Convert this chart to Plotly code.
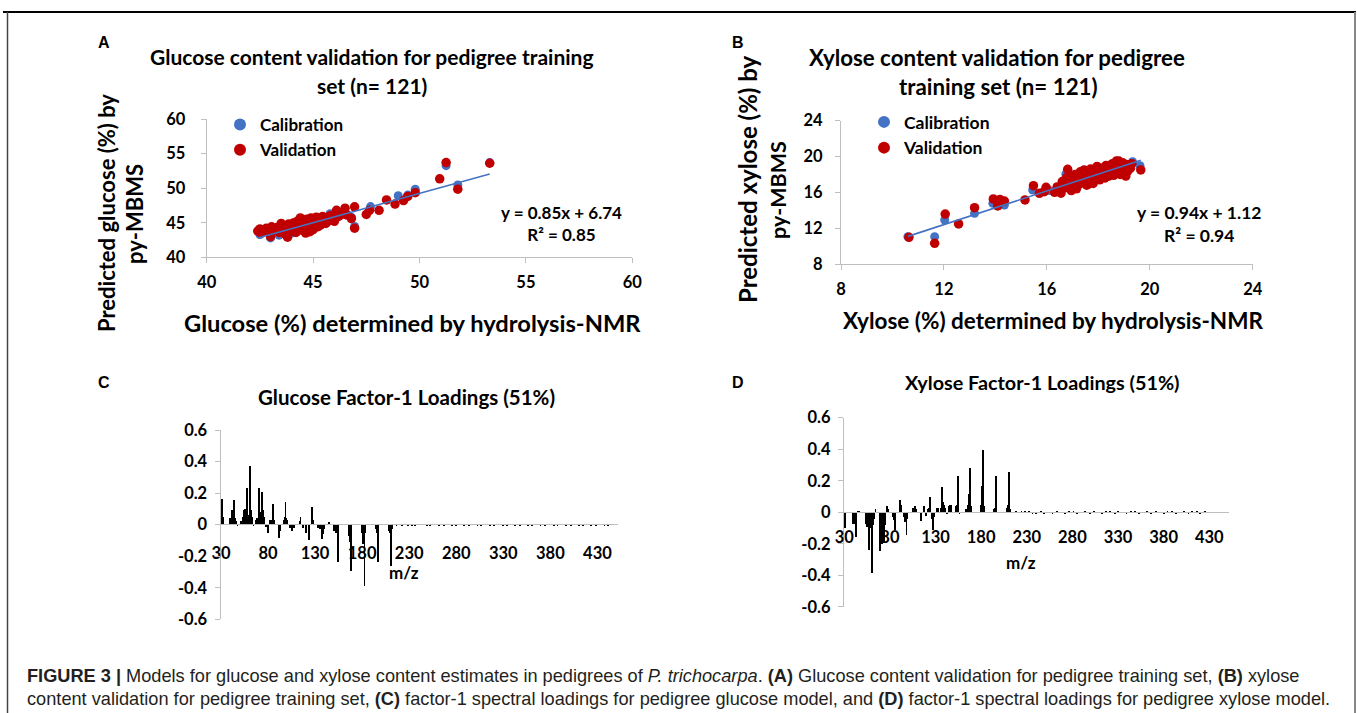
import plotly.graph_objects as go

W, H = 1357, 713

# ---------------- Panel A: glucose validation ----------------
gluc_cal_x = [42.5, 43.0, 43.4, 44.0, 44.6, 45.3, 45.8, 46.8, 46.95, 47.7, 49.0, 49.45, 49.8, 51.25, 51.8, 53.3]
gluc_cal_y = [43.3, 42.8, 43.2, 43.5, 44.2, 44.5, 46.3, 45.8, 44.45, 47.33, 48.9, 49.0, 49.85, 53.25, 50.45, 53.7]
gluc_val_x = [42.4, 42.5, 42.55, 42.7, 42.8, 42.9, 43.0, 43.05, 43.2, 43.3, 43.4, 43.5, 43.55, 43.6, 43.7,
              43.75, 43.8, 43.85, 43.9, 44.0, 44.05, 44.1, 44.15, 44.2, 44.25, 44.3, 44.35, 44.4, 44.45, 44.5,
              44.55, 44.6, 44.65, 44.7, 44.75, 44.8, 44.85, 44.9, 44.95, 45.0, 45.05, 45.1, 45.15, 45.2, 45.25,
              45.3, 45.35, 45.4, 45.45, 45.5, 45.55, 45.6, 45.7, 45.75, 45.8, 45.9, 46.0, 46.1, 46.2, 46.35,
              46.5, 46.6, 46.8, 46.95, 46.95, 47.5, 47.65, 48.1, 48.45, 48.85, 49.25, 49.45, 49.8, 50.95, 51.25,
              51.8, 53.3]
gluc_val_y = [43.8, 44.1, 43.5, 43.9, 44.2, 43.7, 43.0, 44.4, 43.9, 44.3, 43.6, 44.9, 44.0, 44.6, 43.3,
              44.2, 42.9, 44.8, 44.1, 44.5, 43.8, 45.0, 44.3, 43.6, 44.7, 45.3, 44.0, 45.7, 44.5, 43.9,
              45.2, 44.8, 43.5, 45.5, 44.2, 45.0, 43.7, 45.7, 44.6, 44.0, 45.3, 44.9, 45.8, 44.4, 45.1,
              45.6, 44.7, 45.3, 45.9, 45.0, 45.5, 44.9, 45.8, 45.3, 46.0, 45.5, 45.2, 46.8, 45.9, 46.2,
              47.1, 46.1, 45.6, 44.2, 47.3, 46.2, 46.8, 46.8, 48.3, 47.7, 48.2, 48.8, 49.35, 51.35, 53.7,
              49.85, 53.6]
gluc_slope, gluc_icpt, gluc_r2 = 0.85, 6.74, 0.85

# ---------------- Panel B: xylose validation ----------------
xyl_cal_x = [10.6, 11.64, 12.03, 13.19, 13.9, 14.35, 15.45, 16.1, 16.5, 16.74, 17.2, 17.8, 18.3, 18.8, 19.33, 19.62]
xyl_cal_y = [11.05, 11.05, 12.91, 13.66, 14.77, 14.59, 16.26, 16.2, 16.5, 18.05, 17.2, 17.6, 18.4, 18.9, 19.43, 18.98]
xyl_val_x = [10.64, 11.64, 12.05, 12.57, 13.19, 13.92, 14.09, 14.18, 14.35, 15.15, 15.48, 15.71, 15.9, 15.97,
             16.3, 16.4, 16.5, 16.6, 16.7, 16.75, 16.81, 16.85, 16.9, 17.0, 17.05, 17.1, 17.2, 17.25, 17.3,
             17.35, 17.4, 17.45, 17.5, 17.55, 17.6, 17.65, 17.7, 17.75, 17.8, 17.85, 17.9, 17.95, 18.0, 18.05,
             18.1, 18.15, 18.2, 18.25, 18.3, 18.35, 18.4, 18.45, 18.5, 18.55, 18.6, 18.65, 18.7, 18.75, 18.8,
             18.85, 18.9, 18.95, 19.0, 19.07, 19.1, 19.15, 19.25, 19.3, 19.65, 16.55, 16.95, 17.15, 17.6]
xyl_val_y = [10.98, 10.31, 13.58, 12.47, 14.29, 15.26, 14.48, 15.2, 15.03, 15.15, 16.75, 15.89, 16.08, 16.56,
             16.0, 16.6, 16.3, 17.2, 16.5, 17.6, 18.57, 16.9, 17.9, 17.3, 16.7, 18.0, 17.5, 16.9, 18.3,
             17.7, 17.1, 18.5, 17.9, 16.8, 18.2, 17.4, 18.6, 17.8, 17.0, 18.4, 17.6, 18.9, 18.1, 17.4,
             18.7, 17.9, 18.3, 17.6, 19.0, 18.4, 17.8, 18.8, 18.2, 19.2, 17.9, 18.6, 19.5, 18.3, 19.5,
             18.0, 18.8, 19.3, 18.5, 17.82, 19.1, 18.4, 18.7, 19.2, 18.5, 15.9, 16.2, 16.4, 16.9]
xyl_slope, xyl_icpt, xyl_r2 = 0.94, 1.12, 0.94

# ---------------- Panel C: glucose factor-1 loadings ----------------
gluc_mz = [31, 32, 39, 41, 42, 43, 44, 46, 47, 51, 53, 54, 55, 56, 57, 58, 59, 60, 61, 62, 63, 64,
           67, 68, 70, 71, 72, 73, 74, 75, 77, 79, 82, 83, 84, 85, 86, 91, 92, 96, 97, 98, 99, 100,
           103, 105, 107, 113, 114, 117, 120, 123, 126, 127, 133, 135, 137, 138, 139, 144, 149, 150,
           152, 154, 165, 166, 167, 168, 179, 180, 181, 182, 183, 194, 195, 196, 208, 209, 210, 211,
           216, 222, 228, 232, 236, 240, 244, 248, 252, 257, 261, 266, 270, 275, 279, 284, 288, 293,
           297, 302, 306, 311, 315, 320, 324, 329, 333, 338, 342, 347, 351, 356, 360, 365, 369, 374,
           378, 383, 387, 392, 396, 401, 405, 410, 414, 419, 423, 428, 432, 437, 441, 445, 449]
gluc_load = [0.16, 0.05, 0.04, 0.095, 0.06, 0.155, 0.04, 0.02, -0.01, 0.02, 0.05, 0.095, 0.10, 0.06, 0.23,
             0.05, 0.06, 0.37, 0.09, 0.05, 0.03, -0.01, 0.03, 0.04, 0.235, 0.08, 0.05, 0.21, 0.09, 0.05,
             -0.015, -0.05, 0.03, 0.02, 0.03, 0.13, 0.03, -0.085, -0.04, 0.03, 0.05, 0.145, 0.04, 0.03,
             -0.02, -0.04, -0.02, 0.02, 0.05, -0.02, -0.05, -0.095, 0.11, 0.03, -0.02, -0.03, -0.09, -0.06,
             -0.03, 0.015, -0.03, -0.04, -0.05, -0.235, -0.07, -0.11, -0.05, -0.295, -0.05, -0.12, -0.08,
             -0.39, -0.05, -0.03, -0.05, -0.235, -0.04, -0.05, -0.26, -0.03,
             -0.01, -0.008, -0.006, -0.005, -0.005, 0.003, 0.004, -0.004, -0.005, 0.003, -0.004, -0.005,
             0.003, -0.004, -0.005, 0.004, -0.004, -0.005, 0.003, -0.004, -0.005, 0.004, -0.004, -0.005,
             0.003, -0.004, -0.005, 0.004, -0.004, -0.005, 0.003, -0.004, -0.005, 0.004, -0.004, -0.005,
             0.003, -0.004, -0.005, 0.004, -0.004, -0.005, 0.003, -0.004, -0.005, 0.004, -0.004, -0.005,
             0.003, -0.005, -0.006]

# ---------------- Panel D: xylose factor-1 loadings ----------------
xyl_mz = [31, 39, 41, 43, 45, 46, 53, 54, 55, 56, 57, 58, 59, 60, 61, 62, 64, 69, 70, 71, 72, 73, 74,
          75, 77, 78, 83, 84, 85, 86, 91, 92, 95, 96, 97, 98, 99, 105, 107, 109, 114, 117, 119, 122,
          123, 124, 126, 127, 128, 131, 133, 136, 137, 138, 139, 140, 142, 145, 146, 147, 152, 153, 154,
          156, 163, 165, 166, 167, 168, 169, 180, 181, 182, 183, 194, 195, 196, 208, 209, 210, 211, 218,
          224, 228, 232, 236, 240, 245, 249, 254, 258, 263, 267, 272, 276, 281, 285, 290, 294, 299, 303,
          308, 312, 317, 321, 326, 330, 335, 339, 344, 348, 353, 357, 362, 366, 371, 375, 380, 384, 389,
          393, 398, 402, 407, 411, 416, 420, 425, 429, 434, 438, 443, 447]
xyl_load = [-0.1, -0.07, -0.07, -0.155, 0.01, 0.01, -0.04, -0.07, -0.09, -0.08, -0.24, -0.1, -0.08, -0.38,
            -0.08, -0.04, 0.02, -0.245, -0.12, -0.2, -0.1, -0.19, -0.08, -0.04, 0.045, 0.025, -0.03, -0.05,
            -0.11, -0.05, 0.08, 0.05, -0.03, -0.06, -0.05, -0.145, -0.04, 0.03, 0.045, 0.02, -0.055, 0.045,
            -0.02, 0.02, 0.03, 0.1, -0.04, -0.11, -0.03, 0.03, 0.03, 0.03, 0.16, 0.07, 0.05, 0.03, -0.01,
            0.04, 0.05, 0.05, 0.04, 0.05, 0.235, -0.01, 0.02, 0.05, 0.12, 0.1, 0.285, 0.04, 0.05, 0.17,
            0.4, 0.04, 0.02, 0.03, 0.23, 0.03, 0.05, 0.255, 0.02, 0.01,
            0.008, 0.006, 0.005, -0.004, -0.005, 0.004, -0.004, 0.003, -0.005, 0.004, 0.003, -0.004,
            0.005, 0.004, -0.004, 0.003, 0.004, -0.004, 0.005, 0.003, -0.004, 0.004, 0.005, -0.003,
            0.004, 0.003, -0.004, 0.004, 0.005, -0.004, 0.003, 0.004, -0.004, 0.005, 0.003, -0.004,
            0.004, 0.005, -0.004, 0.003, 0.004, -0.004, 0.005, 0.004, -0.004, 0.006]

mz_ticks = [30, 80, 130, 180, 230, 280, 330, 380, 430]
load_ticks = [0.6, 0.4, 0.2, 0, -0.2, -0.4, -0.6]
load_ticktext = ["0.6", "0.4", "0.2", "0", "-0.2", "-0.4", "-0.6"]

# ---------------- styling ----------------
BLUE = "#4472C4"
RED = "#C00000"
AX = "#BFBFBF"
FONT = "Lato"


def px(x):
    return x / W


def py(y):
    return 1 - y / H


fig = go.Figure()

# Panel A traces
fig.add_trace(go.Scatter(x=gluc_cal_x, y=gluc_cal_y, mode="markers", name="Calibration",
                         marker=dict(color=BLUE, size=9), xaxis="x", yaxis="y", legend="legend"))
fig.add_trace(go.Scatter(x=gluc_val_x, y=gluc_val_y, mode="markers", name="Validation",
                         marker=dict(color=RED, size=9.5), xaxis="x", yaxis="y", legend="legend"))
ga = min(gluc_cal_x + gluc_val_x)
gb = max(gluc_cal_x + gluc_val_x)
fig.add_trace(go.Scatter(x=[ga, gb], y=[gluc_slope * ga + gluc_icpt, gluc_slope * gb + gluc_icpt],
                         mode="lines", line=dict(color=BLUE, width=1.6), showlegend=False,
                         xaxis="x", yaxis="y"))

# Panel B traces
fig.add_trace(go.Scatter(x=xyl_cal_x, y=xyl_cal_y, mode="markers", name="Calibration",
                         marker=dict(color=BLUE, size=9), xaxis="x2", yaxis="y2", legend="legend2"))
fig.add_trace(go.Scatter(x=xyl_val_x, y=xyl_val_y, mode="markers", name="Validation",
                         marker=dict(color=RED, size=9.5), xaxis="x2", yaxis="y2", legend="legend2"))
xa = min(xyl_cal_x + xyl_val_x)
xb = max(xyl_cal_x + xyl_val_x)
fig.add_trace(go.Scatter(x=[xa, xb], y=[xyl_slope * xa + xyl_icpt, xyl_slope * xb + xyl_icpt],
                         mode="lines", line=dict(color=BLUE, width=1.6), showlegend=False,
                         xaxis="x2", yaxis="y2"))

# Panel C / D bars
fig.add_trace(go.Bar(x=gluc_mz, y=gluc_load, width=0.95, marker=dict(color="black", line=dict(width=0)),
                     showlegend=False, xaxis="x3", yaxis="y3"))
fig.add_trace(go.Bar(x=xyl_mz, y=xyl_load, width=0.95, marker=dict(color="black", line=dict(width=0)),
                     showlegend=False, xaxis="x4", yaxis="y4"))

tickfont = dict(family=FONT, size=16.5, color="black", weight="bold")

common = dict(showgrid=False, zeroline=False, showline=True, linecolor=AX, linewidth=1,
              ticks="outside", tickcolor=AX, ticklen=5, tickfont=tickfont, automargin=False)

layout = dict(
    width=W, height=H, autosize=False,
    margin=dict(l=0, r=0, t=0, b=0, pad=0, autoexpand=False),
    paper_bgcolor="white", plot_bgcolor="rgba(0,0,0,0)",
    bargap=0, showlegend=True,
    xaxis=dict(domain=[px(206.7), px(632.3)], range=[40, 60], tickvals=[40, 45, 50, 55, 60],
               anchor="y", ticklabelstandoff=5, **common),
    yaxis=dict(domain=[py(257.3), py(119)], range=[40, 60], tickvals=[40, 45, 50, 55, 60],
               anchor="x", ticklabelstandoff=12, **common),
    xaxis2=dict(domain=[px(841), px(1252.7)], range=[8, 24], tickvals=[8, 12, 16, 20, 24],
                anchor="y2", ticklabelstandoff=5, **common),
    yaxis2=dict(domain=[py(264), py(120.7)], range=[8, 24], tickvals=[8, 12, 16, 20, 24],
                anchor="x2", ticklabelstandoff=9, **common),
    xaxis3=dict(domain=[px(220.5), px(617.7)], range=[29.5, 451.5], tickvals=mz_ticks,
                anchor="free", position=py(524.3), showgrid=False, zeroline=False, showline=True,
                linecolor=AX, linewidth=1, ticks="", tickfont=tickfont, ticklabelstandoff=14,
                automargin=False),
    yaxis3=dict(domain=[py(619.3), py(430)], range=[-0.6, 0.6], tickvals=load_ticks,
                ticktext=load_ticktext, anchor="x3", ticklabelstandoff=4, **common),
    xaxis4=dict(domain=[px(843.8), px(1228.9)], range=[29.5, 451.5], tickvals=mz_ticks,
                anchor="free", position=py(512.3), showgrid=False, zeroline=False, showline=True,
                linecolor=AX, linewidth=1, ticks="", tickfont=tickfont, ticklabelstandoff=10,
                automargin=False),
    yaxis4=dict(domain=[py(606.9), py(417.7)], range=[-0.6, 0.6], tickvals=load_ticks,
                ticktext=load_ticktext, anchor="x4", ticklabelstandoff=4, **common),
    legend=dict(x=px(220), y=py(107), xanchor="left", yanchor="top",
                font=dict(family=FONT, size=17, color="black", weight="bold"),
                bgcolor="rgba(0,0,0,0)", tracegroupgap=0, itemsizing="constant"),
    legend2=dict(x=px(864), y=py(104), xanchor="left", yanchor="top",
                 font=dict(family=FONT, size=17.5, color="black", weight="bold"),
                 bgcolor="rgba(0,0,0,0)", tracegroupgap=0, itemsizing="constant"),
)
fig.update_layout(**layout)


def bold(size):
    return dict(family=FONT, size=size, color="black", weight="bold")


ann = []


def text(x, y, s, size, xanchor="center", textangle=0, font=None, align="center"):
    ann.append(dict(x=px(x), y=py(y), xref="paper", yref="paper", text=s, showarrow=False,
                    xanchor=xanchor, yanchor="middle", textangle=textangle,
                    font=font or bold(size), align=align))


# panel letters
letter_font = dict(family="Liberation Sans", size=16, color="black", weight="bold")
text(104, 42, "A", 16, font=letter_font)
text(738, 42, "B", 16, font=letter_font)
text(104, 382, "C", 16, font=letter_font)
text(738, 382, "D", 16, font=letter_font)

# titles
text(372, 56, "Glucose content validation for pedigree training", 21)
text(372, 85, "set (n= 121)", 21)
text(997, 57, "Xylose content validation for pedigree", 22.3)
text(999, 87, "training set (n= 121)", 22.3)
text(406, 397, "Glucose Factor-1 Loadings (51%)", 20.5)
text(1042, 382, "Xylose Factor-1 Loadings (51%)", 19.8)

# axis titles
text(412, 323, "Glucose (%) determined by hydrolysis-NMR", 23.7)
text(1053, 320, "Xylose (%) determined by hydrolysis-NMR", 22.5)
text(106, 213, "Predicted glucose (%) by", 22, textangle=-90)
text(135, 214, "py-MBMS", 22, textangle=-90)
text(747, 179, "Predicted xylose (%) by", 24, textangle=-90)
text(778, 190, "py-MBMS", 21.5, textangle=-90)
text(404, 572, "m/z", 17)
text(1021, 562, "m/z", 17)

# equations
text(561, 223.5, f"y = {gluc_slope:.2f}x + {gluc_icpt:.2f}<br>R² = {gluc_r2:.2f}", 17)
text(1199, 224, f"y = {xyl_slope:.2f}x + {xyl_icpt:.2f}<br>R² = {xyl_r2:.2f}", 17.5)

# caption
cap_font = dict(family="Liberation Sans", size=18.2, color="#231f20")
text(25, 676, "<b>FIGURE 3 |</b> Models for glucose and xylose content estimates in pedigrees of "
     "<i>P. trichocarpa</i>. <b>(A)</b> Glucose content validation for pedigree training set, "
     "<b>(B)</b> xylose", 18.2, xanchor="left", font=cap_font, align="left")
text(25, 699, "content validation for pedigree training set, <b>(C)</b> factor-1 spectral loadings for "
     "pedigree glucose model, and <b>(D)</b> factor-1 spectral loadings for pedigree xylose model.",
     18.2, xanchor="left", font=cap_font, align="left")

fig.update_layout(annotations=ann)

# outer frame
fig.update_layout(shapes=[
    dict(type="line", xref="paper", yref="paper", x0=px(3), x1=px(1356), y0=py(12), y1=py(12),
         line=dict(color="black", width=2)),
    dict(type="line", xref="paper", yref="paper", x0=px(7.5), x1=px(7.5), y0=py(12), y1=py(713),
         line=dict(color="#444444", width=1.5)),
    dict(type="line", xref="paper", yref="paper", x0=px(1355), x1=px(1355), y0=py(12), y1=py(713),
         line=dict(color="#888888", width=2)),
])

fig.write_html("out.html",
               post_script="document.body.style.margin='0';"
                           "document.documentElement.style.overflow='hidden';")
